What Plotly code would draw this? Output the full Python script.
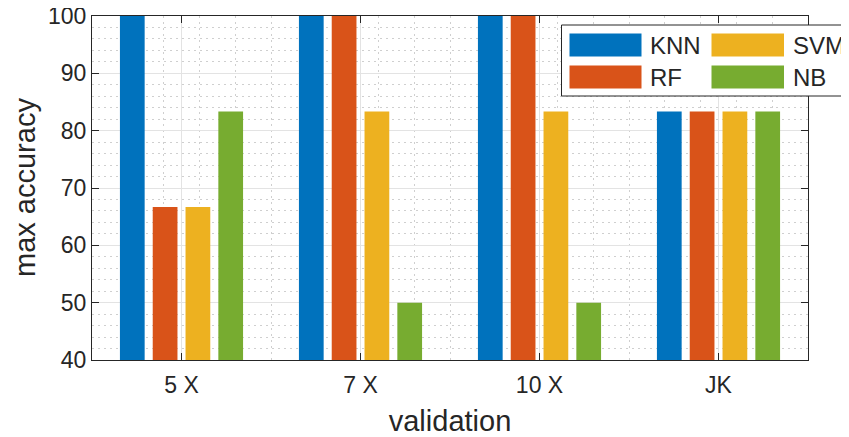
import plotly.graph_objects as go

# ---- data ----
categories = ["5 X", "7 X", "10 X", "JK"]
cat_pos = [1, 2, 3, 4]
series_names = ["KNN", "RF", "SVM", "NB"]
knn = [100, 100, 100, 83.33]
rf = [66.67, 100, 100, 83.33]
svm = [66.67, 83.33, 83.33, 83.33]
nb = [83.33, 50, 50, 83.33]
series_values = [knn, rf, svm, nb]
colors = ["#0072BD", "#D95319", "#EDB120", "#77AC30"]
y_ticks = [40, 50, 60, 70, 80, 90, 100]
x_title = "validation"
y_title = "max accuracy"

FONT = "Liberation Sans, Arial, Helvetica, sans-serif"
DARK = "#262626"

PAGE_OFF = 8  # default body margin of the html page
W, H = 849 - PAGE_OFF, 437 - PAGE_OFF
L, R, T, B = 92 - PAGE_OFF, 41, 16 - PAGE_OFF, 77
PW, PH = W - L - R, H - T - B


def px_x(px):
    return (px - PAGE_OFF - L) / PW


def px_y(py):
    return (H - B - (py - PAGE_OFF)) / PH


fig = go.Figure()
for name, vals, col in zip(series_names, series_values, colors):
    fig.add_trace(go.Bar(x=cat_pos, y=vals, name=name, marker_color=col,
                         marker_line_width=0, showlegend=False))

fig.update_layout(
    width=W, height=H, autosize=False,
    margin=dict(l=L, r=R, t=T, b=B, autoexpand=False),
    plot_bgcolor="white", paper_bgcolor="white",
    barmode="group", bargap=0.267, bargroupgap=0.246,
    font=dict(family=FONT, color=DARK, size=23),
)

minor_grid = dict(showgrid=True, gridcolor="#cfcfcf", griddash="2px,4px", gridwidth=1, ticks="")

fig.update_xaxes(
    range=[0.5, 4.5], tickmode="array", tickvals=cat_pos, ticktext=categories,
    showline=True, linecolor=DARK, linewidth=1.3, mirror="ticks",
    ticks="inside", ticklen=7, tickcolor=DARK, tickwidth=1.2,
    showgrid=True, gridcolor="#e3e3e3", gridwidth=1,
    minor=dict(tick0=0.5, dtick=0.2, **minor_grid),
    tickfont=dict(size=23, family=FONT, color=DARK),
    ticklabelstandoff=4, ticklabeloverflow="allow",
    title=dict(text=x_title, font=dict(size=29, family=FONT, color=DARK), standoff=13),
    zeroline=False, automargin=False,
)
fig.update_yaxes(
    range=[40, 100], tickmode="array", tickvals=y_ticks,
    showline=True, linecolor=DARK, linewidth=1.3, mirror="ticks",
    ticks="inside", ticklen=7, tickcolor=DARK, tickwidth=1.2,
    showgrid=True, gridcolor="#e3e3e3", gridwidth=1,
    minor=dict(tick0=40, dtick=2, **minor_grid),
    tickfont=dict(size=23, family=FONT, color=DARK),
    ticklabeloverflow="allow",
    zeroline=False, automargin=False,
)

# ---- legend (two columns, MATLAB style) ----
legend_rows = [["KNN", "SVM"], ["RF", "NB"]]
col_swatch_x = [(569.5, 641.5), (711.5, 784)]
col_text_x = [648, 791]
row_center_y = [45, 77]
sw_h = 23

shapes = [dict(type="rect", xref="paper", yref="paper",
               x0=px_x(561.5), x1=px_x(880), y0=px_y(96), y1=px_y(25),
               line=dict(color=DARK, width=1), fillcolor="white", layer="above")]
annotations = [dict(xref="paper", yref="paper", x=px_x(25), y=0.5, text=y_title,
                    textangle=-90, showarrow=False, xanchor="center", yanchor="middle",
                    font=dict(size=29, family=FONT, color=DARK))]
for r, row in enumerate(legend_rows):
    for c, name in enumerate(row):
        col = colors[series_names.index(name)]
        cy = row_center_y[r]
        shapes.append(dict(type="rect", xref="paper", yref="paper",
                           x0=px_x(col_swatch_x[c][0]), x1=px_x(col_swatch_x[c][1]),
                           y0=px_y(cy + sw_h / 2), y1=px_y(cy - sw_h / 2),
                           line=dict(width=0), fillcolor=col, layer="above"))
        annotations.append(dict(xref="paper", yref="paper", x=px_x(col_text_x[c]), y=px_y(cy),
                                text=name, showarrow=False, xanchor="left", yanchor="middle",
                                font=dict(size=24, family=FONT, color=DARK)))

fig.update_layout(shapes=shapes, annotations=annotations)

fig.write_html("out.html")
